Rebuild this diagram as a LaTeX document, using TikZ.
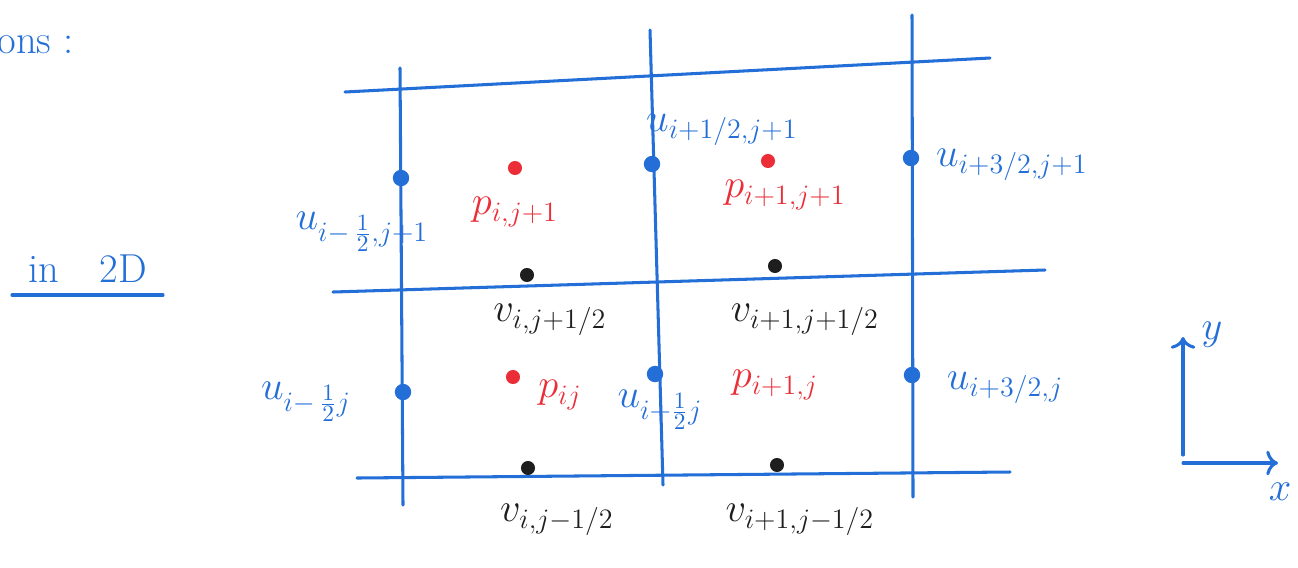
\documentclass[tikz,border=0pt]{standalone}
\usetikzlibrary{arrows.meta}
\definecolor{penblue}{RGB}{35,110,215}
\definecolor{penred}{RGB}{235,45,55}
\definecolor{penblack}{RGB}{30,30,30}
\tikzset{
  gridline/.style={penblue, line width=1.3pt, line cap=round},
  udot/.style={circle, fill=penblue, inner sep=0pt, minimum size=7pt},
  vdot/.style={circle, fill=penblack, inner sep=0pt, minimum size=6pt},
  pdot/.style={circle, fill=penred, inner sep=0pt, minimum size=6pt},
  ulabel/.style={text=penblue, font=\LARGE},
  vlabel/.style={text=penblack, font=\LARGE},
  plabel/.style={text=penred, font=\LARGE},
}
\begin{document}
\begin{tikzpicture}[x=0.015cm, y=-0.015cm]
  \useasboundingbox (0,0) rectangle (1298,567);
  % --- grid end points ---
  \coordinate (V1a) at (400,68);  \coordinate (V1b) at (403,505);
  \coordinate (V2a) at (650,30);  \coordinate (V2b) at (663,485);
  \coordinate (V3a) at (912,15);  \coordinate (V3b) at (913,497);
  \coordinate (H1a) at (345,92);  \coordinate (H1b) at (990,58);
  \coordinate (H2a) at (333,292); \coordinate (H2b) at (1045,270);
  \coordinate (H3a) at (357,478); \coordinate (H3b) at (1010,472);

  % --- grid lines ---
  \draw[gridline] (V1a) -- (V1b);
  \draw[gridline] (V2a) -- (V2b);
  \draw[gridline] (V3a) -- (V3b);
  \draw[gridline] (H1a) -- (H1b);
  \draw[gridline] (H2a) -- (H2b);
  \draw[gridline] (H3a) -- (H3b);

  % --- grid points ---
  \node[udot] (uL1) at (401,178) {};
  \node[udot] (uM1) at (652,164) {};
  \node[udot] (uR1) at (911,158) {};
  \node[udot] (uL0) at (403,392) {};
  \node[udot] (uM0) at (655,374) {};
  \node[udot] (uR0) at (912,375) {};
  \node[vdot] (vA) at (527,275) {};
  \node[vdot] (vB) at (775,266) {};
  \node[vdot] (vC) at (528,468) {};
  \node[vdot] (vD) at (777,465) {};
  \node[pdot] (pA) at (515,168) {};
  \node[pdot] (pB) at (768,161) {};
  \node[pdot] (pC) at (513,377) {};

  % --- labels ---
  \node[ulabel] (uL1t) at (362,232) {$u_{i-\,\frac12,j+1}$};
  \node[ulabel] (uM1t) at (722,130) {$u_{i+1/2,j+1}$};
  \node[ulabel] (uR1t) at (1012,165) {$u_{i+3/2,j+1}$};
  \node[ulabel] (uL0t) at (306,402) {$u_{i-\,\frac12 j}$};
  \node[ulabel] (uM0t) at (660,410) {$u_{i+\frac12 j}$};
  \node[ulabel] (uR0t) at (1005,388) {$u_{i+3/2,j}$};
  \node[plabel] (pAt) at (515,212) {$p_{i,j+1}$};
  \node[plabel] (pBt) at (785,195) {$p_{i+1,j+1}$};
  \node[plabel] (pCt) at (560,395) {$p_{ij}$};
  \node[plabel] (pDt) at (775,385) {$p_{i+1,j}$};
  \node[vlabel] (vAt) at (550,320) {$v_{i,j+1/2}$};
  \node[vlabel] (vBt) at (805,320) {$v_{i+1,j+1/2}$};
  \node[vlabel] (vCt) at (557,520) {$v_{i,j-1/2}$};
  \node[vlabel] (vDt) at (800,520) {$v_{i+1,j-1/2}$};

  % --- left side text ---
  \node[ulabel, anchor=east] (ons) at (82,45) {ons :};
  \node[ulabel, anchor=base west, inner sep=0pt] (twoD) at (28,282) {in\quad 2D};
  \coordinate (ulA) at (12,295);
  \coordinate (ulB) at (163,295);
  \draw[gridline] (ulA) -- (ulB);

  % --- axes ---
  \coordinate (O) at (1183,455);
  \coordinate (Ox) at (1183,463);
  \coordinate (Yend) at (1183,337);
  \coordinate (Xend) at (1278,463);
  \draw[gridline, -{To[length=5pt]}] (O) -- (Yend);
  \draw[gridline, -{To[length=5pt]}] (Ox) -- (Xend);
  \node[ulabel] (ylab) at (1212,335) {$y$};
  \node[ulabel] (xlab) at (1280,492) {$x$};
\end{tikzpicture}
\end{document}
